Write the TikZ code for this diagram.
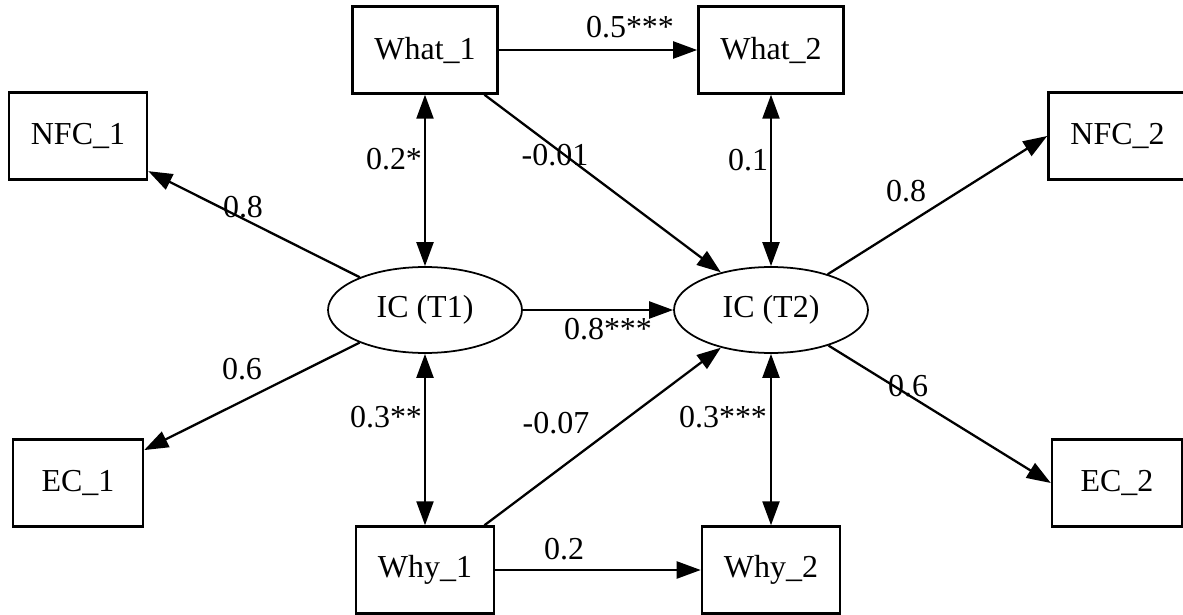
\documentclass[tikz,border=0pt]{standalone}
\usepackage{fontspec}
\setmainfont{Liberation Serif}
\usetikzlibrary{positioning,shapes.geometric,arrows.meta}

\begin{document}
\begin{tikzpicture}[
      x=0.02cm, y=-0.02cm,
      every node/.style={font=\fontsize{18.2}{22}\selectfont},
      obs/.style={
        rectangle,
        draw,
        line width=1.4pt,
        minimum width=2.6cm,
        minimum height=1.74cm,
        inner xsep=0.44cm,
      },
      lat/.style={
        ellipse,
        draw,
        line width=1pt,
        minimum width=3.88cm,
        minimum height=1.72cm,
        inner sep=0pt,
      },
      coef/.style={inner sep=0pt},
      reg/.style={-{Triangle[length=0.48cm,width=0.34cm]}, line width=1.3pt},
      cov/.style={{Triangle[length=0.48cm,width=0.34cm]}-{Triangle[length=0.48cm,width=0.34cm]}, line width=1.3pt}
      ]
      \useasboundingbox (0,0) rectangle (1183,615);
      % time 1
      \node[obs] (what1) at (425,50) {What\_1};
      \node[lat] (ic1) at (425,310) {IC (T1)};
      \node[obs] (why1) at (425,570) {Why\_1};
      \node[obs] (nfc1) at (78,136) {NFC\_1};
      \node[obs] (ec1) at (78,483) {EC\_1};
      % time 2
      \node[obs] (what2) at (771,50) {What\_2};
      \node[lat] (ic2) at (771,310) {IC (T2)};
      \node[obs] (why2) at (771,570) {Why\_2};
      \node[obs] (nfc2) at (1117.5,136) {NFC\_2};
      \node[obs] (ec2) at (1117,483) {EC\_2};
      % loadings
      \draw[reg] (ic1) -- (nfc1);
      \draw[reg] (ic1) -- (ec1);
      \draw[reg] (ic2) -- (nfc2.west);
      \draw[reg] (ic2) -- (ec2.west);
      % paths
      \draw[reg] (what1) -- (what2);
      \draw[reg] (ic1) -- (ic2);
      \draw[reg] (why1) -- (why2);
      \draw[reg] (what1) -- (ic2);
      \draw[reg] (why1) -- (ic2);
      \draw[cov] (what1) -- (ic1);
      \draw[cov] (ic1) -- (why1);
      \draw[cov] (what2) -- (ic2);
      \draw[cov] (ic2) -- (why2);
      % coefficients
      \node[coef] (c_nfc1) at (243,207) {0.8};
      \node[coef] (c_ec1) at (242,369) {0.6};
      \node[coef] (c_nfc2) at (906,191) {0.8};
      \node[coef] (c_ec2) at (908,386) {0.6};
      \node[coef] (c_what) at (630,27) {0.5***};
      \node[coef] (c_ic) at (608,329) {0.8***};
      \node[coef] (c_why) at (564,549) {0.2};
      \node[coef] (c_what1) at (394,159) {0.2*};
      \node[coef] (c_what2) at (748,160) {0.1};
      \node[coef] (c_cross1) at (555,155) {-0.01};
      \node[coef] (c_cross2) at (556,423) {-0.07};
      \node[coef] (c_why1) at (386,417) {0.3**};
      \node[coef] (c_why2) at (723,417) {0.3***};
    \end{tikzpicture}
\end{document}
